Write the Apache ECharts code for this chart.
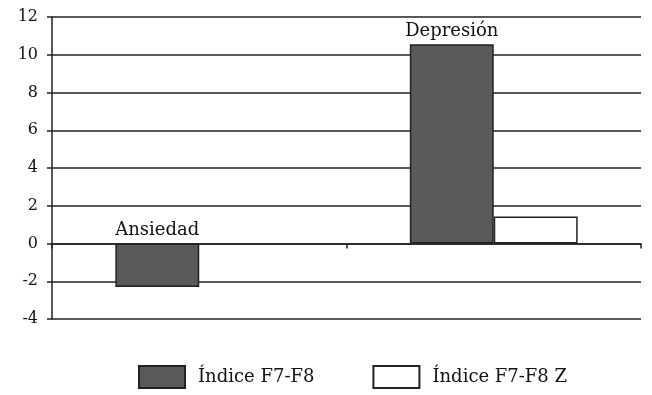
<!DOCTYPE html>
<html>
<head>
<meta charset="utf-8">
<script src="https://cdn.jsdelivr.net/npm/echarts@6/dist/echarts.min.js"></script>
<style>
  html, body { margin: 0; padding: 0; background: #fff; }
  #chart { width: 652px; height: 395px; }
</style>
</head>
<body>
<div id="chart"></div>
<script>
// Scale categories and the two index series
const categories = ['Ansiedad', 'Depresión'];
const indiceF7F8 = [-2.3, 10.55];
const indiceF7F8Z = [0, 1.43];
const yTicks = { min: -4, max: 12, interval: 2 };

const serif = '"DejaVu Serif", "Liberation Serif", serif';
const ink = '#222';

// a zero-height bar is left without an outline
const withOutline = (values, width) => values.map(v => ({
  value: v,
  itemStyle: { borderWidth: v === 0 ? 0 : width }
}));

const chart = echarts.init(document.getElementById('chart'), null, { renderer: 'canvas' });
chart.setOption({
  animation: false,
  backgroundColor: '#fff',
  textStyle: { fontFamily: serif },
  grid: { left: 52, right: 11, top: 17, bottom: 76, containLabel: false },
  legend: {
    bottom: 1,
    left: 133,
    itemWidth: 46,
    itemHeight: 22,
    itemGap: 58,
    icon: 'rect',
    textStyle: { fontFamily: serif, fontSize: 18, color: '#111', padding: [0, 0, 0, 8] },
    data: ['Índice F7-F8', 'Índice F7-F8 Z']
  },
  xAxis: {
    type: 'category',
    data: categories,
    axisLine: { onZero: true, lineStyle: { color: ink, width: 1.5 } },
    axisTick: { show: true, length: 5, inside: false, lineStyle: { color: ink, width: 1.5 } },
    axisLabel: { show: false },
    splitLine: { show: false }
  },
  yAxis: {
    type: 'value',
    min: yTicks.min,
    max: yTicks.max,
    interval: yTicks.interval,
    axisLine: { show: true, lineStyle: { color: ink, width: 1.5 } },
    axisTick: { show: true, length: 5, lineStyle: { color: ink, width: 1.5 } },
    axisLabel: { fontFamily: serif, fontSize: 16, color: '#111', margin: 14 },
    splitLine: { show: true, lineStyle: { color: ink, width: 1.5 } }
  },
  series: [
    {
      name: 'Índice F7-F8',
      type: 'bar',
      data: withOutline(indiceF7F8, 1.5),
      barCategoryGap: '43%',
      barGap: '0%',
      itemStyle: { color: '#58595b', borderColor: ink, borderWidth: 1.5 },
      label: {
        show: true,
        position: 'top',
        distance: 4,
        fontFamily: serif,
        fontSize: 18,
        color: '#111',
        formatter: p => p.name
      }
    },
    {
      name: 'Índice F7-F8 Z',
      type: 'bar',
      data: withOutline(indiceF7F8Z, 1.5),
      itemStyle: { color: '#fff', borderColor: ink, borderWidth: 1.5 }
    }
  ]
});
</script>
</body>
</html>
